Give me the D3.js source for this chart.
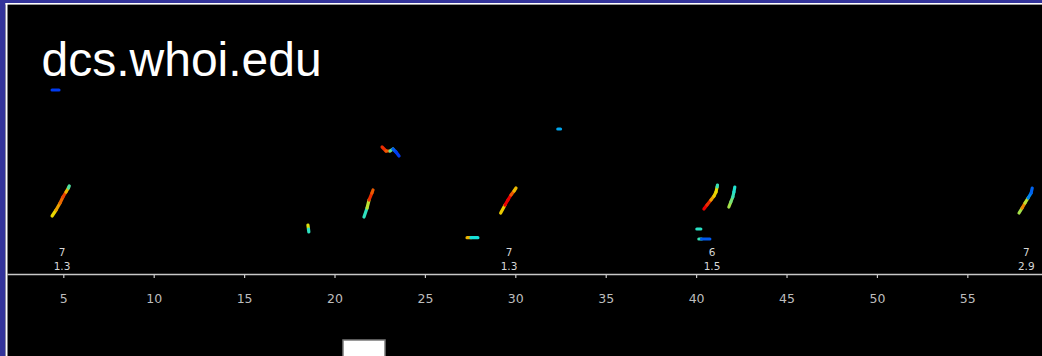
<!DOCTYPE html>
<html><head><meta charset="utf-8">
<script src="https://cdn.jsdelivr.net/npm/d3@7/dist/d3.min.js"></script>
<style>html,body{margin:0;padding:0;background:#000;overflow:hidden}</style>
</head><body><svg id="c" width="1042" height="356"></svg>
<script>
// ---- data (time in s, frequency in kHz, level 0..1 on a jet colour scale) ----
const tickValues = [5, 10, 15, 20, 25, 30, 35, 40, 45, 50, 55];
const labelTimes = [4.93, 29.65, 40.88, 58.26];
const labelCounts = ["7", "7", "6", "7"];
const labelDurations = ["1.3", "1.3", "1.5", "2.9"];
const whistle1 = [[4.38,18.4,0.18],[4.76,18.4,0.2]];
const whistle2 = [[4.38,5.8,0.52],[4.60,6.4,0.75],[4.82,7.1,0.64],[4.98,7.7,0.88],[5.15,8.2,0.72],[5.28,8.6,0.62],[5.33,8.8,0.3]];
const whistle3 = [[18.53,4.9,0.62],[18.56,4.5,0.6],[18.58,4.2,0.25]];
const whistle4 = [[21.63,5.7,0.55],[21.80,6.6,0.3],[21.91,7.4,0.85],[22.07,8.1,0.8],[22.13,8.4,0.75]];
const whistle5 = [[22.63,12.7,0.8],[22.85,12.3,0.85],[23.07,12.3,0.7],[23.23,12.5,0.25],[23.40,12.2,0.2],[23.57,11.8,0.18]];
const whistle6 = [[32.35,14.5,0.3],[32.50,14.5,0.32]];
const whistle7 = [[29.19,6.1,0.45],[29.43,6.9,0.85],[29.59,7.4,0.9],[29.76,7.9,0.85],[29.93,8.3,0.7],[30.04,8.6,0.64]];
const whistle8 = [[27.33,3.63,0.75],[27.55,3.63,0.6],[27.93,3.63,0.2]];
const whistle9 = [[40.43,6.5,0.85],[40.60,6.9,0.9],[40.82,7.4,0.75],[40.99,7.8,0.65],[41.10,8.2,0.64],[41.16,8.7,0.62],[41.18,8.9,0.25]];
const whistle10 = [[41.81,6.7,0.55],[41.92,7.2,0.55],[42.03,7.7,0.45],[42.09,8.2,0.42],[42.14,8.7,0.4]];
const whistle11 = [[40.04,4.5,0.62],[40.26,4.5,0.22]];
const whistle12 = [[40.15,3.5,0.62],[40.30,3.5,0.25],[40.76,3.5,0.2]];
const whistle13 = [[57.86,6.1,0.5],[58.03,6.6,0.6],[58.19,7.1,0.85],[58.36,7.6,0.3],[58.53,8.1,0.25],[58.59,8.6,0.22]];
const whistles = [whistle1,whistle2,whistle3,whistle4,whistle5,whistle6,whistle7,whistle8,whistle9,whistle10,whistle11,whistle12,whistle13];

// ---- drawing ----
const svg = d3.select("#c");
const W = 1042, H = 356;
svg.append("rect").attr("width", W).attr("height", H).attr("fill", "#000");
// frame (blue + white) on left and top
svg.append("rect").attr("x",0).attr("y",0).attr("width",W).attr("height",3).attr("fill","#33339a");
svg.append("rect").attr("x",0).attr("y",0).attr("width",5.5).attr("height",H).attr("fill","#33339a");
svg.append("rect").attr("x",5.5).attr("y",3).attr("width",W-4).attr("height",1.6).attr("fill","#fff");
svg.append("rect").attr("x",5.5).attr("y",3).attr("width",2).attr("height",H-2).attr("fill","#fff");

const x = d3.scaleLinear().domain([1.886, 59.13]).range([7, 1042]);
const y = d3.scaleLinear().domain([0, 27]).range([274, 4]);
const jet = c => {
  const cl = v => Math.max(0, Math.min(1, v));
  const r = cl(1.5 - Math.abs(4*c - 3)), g = cl(1.5 - Math.abs(4*c - 2)), b = cl(1.5 - Math.abs(4*c - 1));
  return d3.rgb(r*235, g*225, b*240).toString();
};

const defs = svg.append("defs");
defs.append("filter").attr("id","soft").attr("x","-50%").attr("y","-50%").attr("width","200%").attr("height","200%")
  .append("feGaussianBlur").attr("stdDeviation", 0.75);

const g = svg.append("g").attr("filter","url(#soft)");
whistles.forEach(w => {
  for (let i = 0; i < w.length - 1; i++) {
    g.append("line")
      .attr("x1", x(w[i][0])).attr("y1", y(w[i][1]))
      .attr("x2", x(w[i+1][0])).attr("y2", y(w[i+1][1]))
      .attr("stroke", jet((w[i][2] + w[i+1][2]) / 2))
      .attr("stroke-width", 3.2).attr("stroke-linecap", "round");
  }
});

// axis
const axis = d3.axisBottom(x).tickValues(tickValues).tickSize(4).tickSizeOuter(0).tickPadding(16).tickFormat(d3.format("d"));
const ax = svg.append("g").attr("transform", `translate(0,${y(0)})`).call(axis);
ax.select(".domain").attr("stroke", "#c8c8c8").attr("stroke-width", 1.6);
ax.selectAll(".tick line").attr("stroke", "#c8c8c8").attr("stroke-width", 1.2);
ax.selectAll(".tick text").attr("fill", "#bdbdbd").attr("font-family", "DejaVu Sans").attr("font-size", 12.5);

// labels above axis
const lab = svg.append("g").attr("font-family", "DejaVu Sans").attr("font-size", 10.5).attr("fill", "#d6d6d6").attr("text-anchor", "middle");
labelTimes.forEach((t, i) => {
  lab.append("text").attr("x", x(t)).attr("y", y(0) - 18).text(labelCounts[i]);
  lab.append("text").attr("x", x(t)).attr("y", y(0) - 4.5).text(labelDurations[i]);
});

// title
svg.append("text").attr("x", 41.5).attr("y", 75.5).attr("fill", "#fff")
  .attr("font-family", "Liberation Sans, Arial, sans-serif").attr("font-size", 48).text("dcs.whoi.edu");

// white box at the bottom
svg.append("rect").attr("x", 343).attr("y", 340).attr("width", 42).attr("height", 30)
  .attr("fill", "#fff").attr("stroke", "#7a7a7a").attr("stroke-width", 1.5);
</script></body></html>
